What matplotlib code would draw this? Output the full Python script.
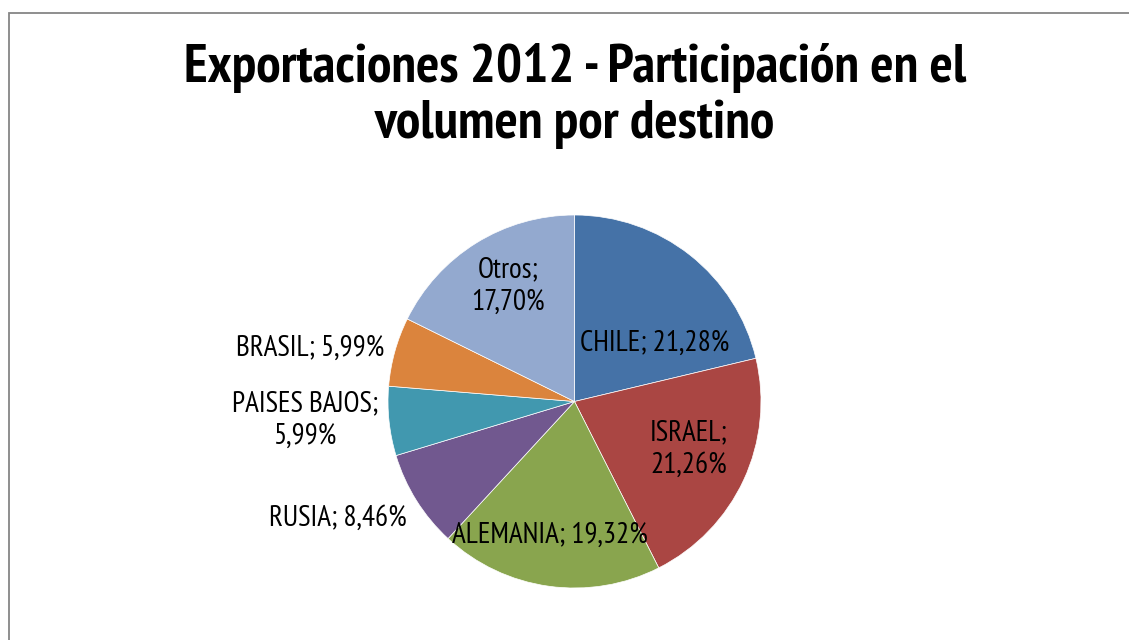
import matplotlib
matplotlib.use("Agg")
import matplotlib.pyplot as plt
from matplotlib.patches import Rectangle
from matplotlib import font_manager

categories = ["CHILE", "ISRAEL", "ALEMANIA", "RUSIA", "PAISES BAJOS", "BRASIL", "Otros"]
values = [21.28, 21.26, 19.32, 8.46, 5.99, 5.99, 17.70]
colors = ["#4572A7", "#AA4643", "#89A54E", "#71588F", "#4198AF", "#DB843D", "#93A9CF"]
title = "Exportaciones 2012 - Participación en el\nvolumen por destino"

names = {f.name for f in font_manager.fontManager.ttflist}
prefs = ["Liberation Sans Narrow", "Arial Narrow", "PT Sans Narrow", "Roboto Condensed",
         "Archivo Narrow", "Open Sans Condensed", "Asap Condensed", "Liberation Sans"]
narrow = next((p for p in prefs if p in names), "DejaVu Sans")
fam = [narrow, "DejaVu Sans"]

W, H = 1129, 640
fig = plt.figure(figsize=(W / 100, H / 100), dpi=100)
fig.patch.set_facecolor("white")

# chart frame
fig.patches.append(Rectangle((8.5 / W, -0.1), 1.2, (H - 12.5) / H + 0.1, transform=fig.transFigure,
                             fill=False, edgecolor="#868686", linewidth=1.3))

cx, cy, r = 574.5, 401.5, 186.5
ax = fig.add_axes([(cx - r) / W, (H - cy - r) / H, 2 * r / W, 2 * r / H])
ax.pie(values, colors=colors, startangle=90, counterclock=False, radius=1,
       wedgeprops=dict(edgecolor="white", linewidth=0.5))
ax.set_xlim(-1, 1)
ax.set_ylim(-1, 1)
ax.set_aspect("equal")
ax.axis("off")

def fmt(v):
    return f"{v:.2f}".replace(".", ",") + "%"

# label placements (pixel centres) and line breaks
label_pos = {
    "CHILE": (655, 343, False),
    "ISRAEL": (689, 449, True),
    "ALEMANIA": (550, 535, False),
    "RUSIA": (338, 518, False),
    "PAISES BAJOS": (305, 420, True),
    "BRASIL": (310, 348, False),
    "Otros": (508, 286, True),
}
for cat, v in zip(categories, values):
    x, y, br = label_pos[cat]
    sep = ";\n" if br else "; "
    fig.text(x / W, 1 - y / H, cat + sep + fmt(v), ha="center", va="center",
             fontsize=21, family=fam, color="black", linespacing=1.25)

fig.text(575 / W, 1 - 96 / H, title, ha="center", va="center", fontsize=39.5,
         fontweight="bold", family=fam, linespacing=1.17)

fig.savefig("out.png", dpi=100)
